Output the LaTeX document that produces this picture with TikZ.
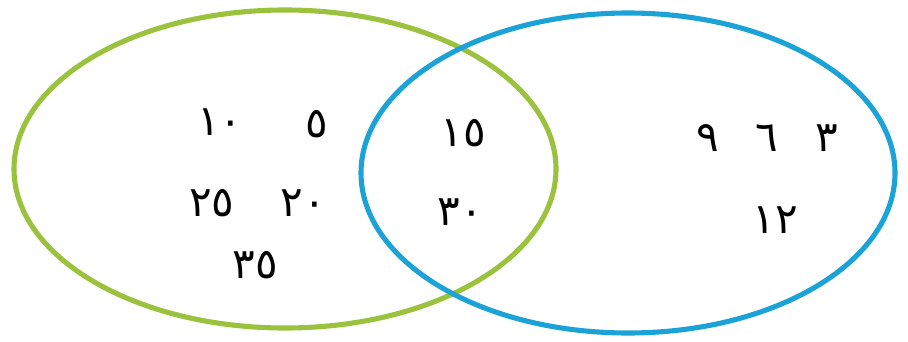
\documentclass[tikz,border=0pt]{standalone}
\usepackage{fontspec}
\newfontfamily\arabicfont[Script=Arabic]{DejaVu Sans}
\definecolor{setgreen}{RGB}{155,194,60}
\definecolor{setblue}{RGB}{27,163,216}

\begin{document}
\begin{tikzpicture}
[
	x=0.02cm, y=-0.02cm,
	setline/.style={line width=2.9pt},
	num/.style={font=\arabicfont\fontsize{24}{24}\selectfont, inner sep=0pt}
]

	\useasboundingbox (0,0) rectangle (908,341);

	% sets
	\draw[setline,setgreen] (285,169) ellipse [x radius=271, y radius=159];
	\draw[setline,setblue] (628,173) ellipse [x radius=267, y radius=160];

	% left only
	\node[num] (n10) at (220,122) {١٠};
	\node[num] (n5) at (317,124) {٥};
	\node[num] (n25) at (212,203) {٢٥};
	\node[num] (n20) at (303,203) {٢٠};
	\node[num] (n35) at (255,265) {٣٥};

	% both
	\node[num] (n15) at (463,133) {١٥};
	\node[num] (n30) at (460,212) {٣٠};

	% right only
	\node[num] (n9) at (708,138) {٩};
	\node[num] (n6) at (767,138) {٦};
	\node[num] (n3) at (827,138) {٣};
	\node[num] (n12) at (775,220) {١٢};

\end{tikzpicture}
\end{document}
